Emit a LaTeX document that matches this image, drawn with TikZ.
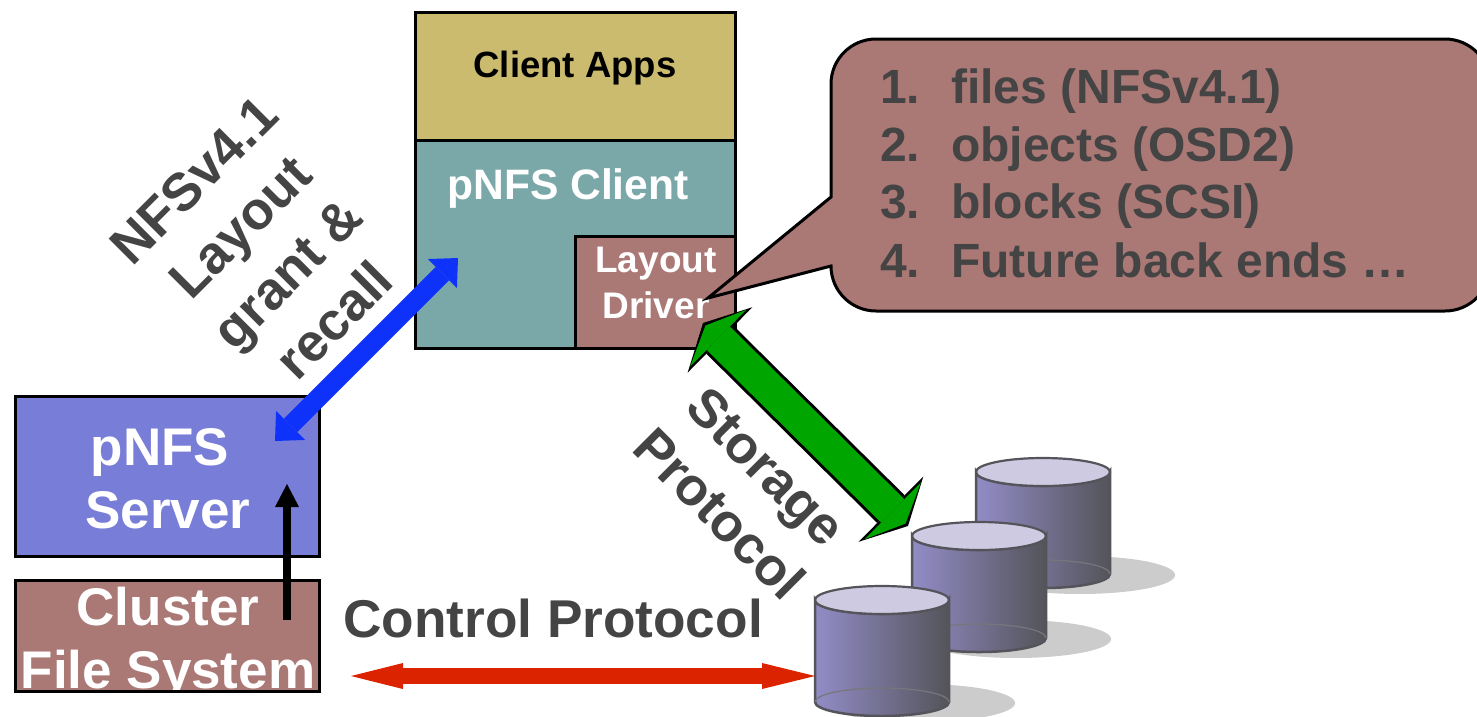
\documentclass[tikz,border=0pt]{standalone}
\usepackage{fontspec}
\setmainfont{Liberation Sans}
\usetikzlibrary{arrows.meta}

\definecolor{appscolor}{RGB}{202,187,111}
\definecolor{clientcolor}{RGB}{122,168,168}
\definecolor{mauvecolor}{RGB}{170,120,117}
\definecolor{servercolor}{RGB}{120,125,215}
\definecolor{textgray}{RGB}{68,68,68}
\definecolor{greenarrow}{RGB}{0,165,0}
\definecolor{bluearrow}{RGB}{15,50,250}
\definecolor{redarrow}{RGB}{220,35,0}
\definecolor{diskleft}{RGB}{146,140,198}
\definecolor{diskright}{RGB}{84,84,90}
\definecolor{disktop}{RGB}{205,202,226}
\definecolor{diskline}{RGB}{84,84,90}
\definecolor{diskshadow}{RGB}{204,204,204}

\begin{document}
\begin{tikzpicture}[x=1pt,y=-1pt,
  box node/.style={rectangle,draw,line width=3pt,inner sep=0pt,outer sep=0pt,anchor=north west},
  white label/.style={inner sep=0pt,anchor=base,text=white,font=\bfseries\fontsize{53}{63}\selectfont},
  small label/.style={inner sep=0pt,align=center,text=white,font=\bfseries\fontsize{37}{46}\selectfont},
  gray label/.style={inner sep=0pt,align=center,text=textgray,font=\bfseries\fontsize{53.2}{66}\selectfont},
  item label/.style={inner sep=0pt,anchor=base west,text=textgray,font=\bfseries\fontsize{48}{58}\selectfont}]

  \useasboundingbox (0,0) rectangle (1477,716);
  \clip (0,0) rectangle (1477,716);

  % client stack
  \node[box node,fill=appscolor,minimum width=320pt,minimum height=128pt] (apps) at (415,12) {};
  \node[box node,fill=clientcolor,minimum width=320pt,minimum height=208pt] (client) at (415,140) {};
  \node[box node,fill=mauvecolor,minimum width=160pt,minimum height=112pt] (driver) at (575,236) {};
  \node[anchor=base,inner sep=0pt,font=\bfseries\fontsize{36.5}{44}\selectfont] (appstext) at (575,77) {Client Apps};
  \node[anchor=base,inner sep=0pt,text=white,font=\bfseries\fontsize{42.6}{50}\selectfont] (clienttext) at (568,199) {pNFS Client};
  \node[small label] (drivertext) at (656,283) {Layout\\Driver};

  % server side
  \node[box node,fill=servercolor,minimum width=304pt,minimum height=160pt] (server) at (15,396) {};
  \node[white label] (servertexta) at (160,465) {pNFS};
  \node[white label] (servertextb) at (168,528) {Server};
  \node[box node,fill=mauvecolor,minimum width=304pt,minimum height=111pt] (cluster) at (15,580) {};
  \begin{scope}
    \clip (15,575) rectangle (319,693);
    \node[white label] (clustertexta) at (168,625) {Cluster};
    \node[white label] (clustertextb) at (168,688) {File System};
  \end{scope}
  \node[box node,minimum width=304pt,minimum height=111pt] (clusterframe) at (15,580) {};

  % speech bubble
  \coordinate (bubbletip) at (708,298);
  \draw[line width=3pt,fill=mauvecolor] (831,197) -- (bubbletip) -- (831,266)
    arc[start angle=180,end angle=90,radius=45]
    -- (1445,311) arc[start angle=90,end angle=0,radius=45]
    -- (1490,84) arc[start angle=0,end angle=-90,radius=45]
    -- (876,39) arc[start angle=270,end angle=180,radius=45] -- cycle;
  \foreach \n/\t/\y in {1/files (NFSv4.1)/103,2/objects (OSD2)/161,3/blocks (SCSI)/218,4/Future back ends …/277}{
    \node[item label] (num\n) at (880,\y) {\n.};
    \node[item label] (item\n) at (951,\y) {\t};
  }

  % disks
  \foreach \cx/\cy/\sx in {1043/472/1080,979/536/1016,882/600/920}{
    \fill[diskshadow] (\sx,\cy+103) ellipse[x radius=95,y radius=19];
    \fill[white] (\sx-100,\cy+122) rectangle (\sx+100,\cy+130);
    \draw[line width=2.5pt,draw=diskline,left color=diskleft,right color=diskright]
      (\cx-67,\cy) -- (\cx-67,\cy+102) arc[start angle=180,end angle=0,x radius=67,y radius=14]
      -- (\cx+67,\cy) arc[start angle=0,end angle=180,x radius=67,y radius=14] -- cycle;
    \draw[line width=1.2pt,draw=diskline!80!white] (\cx-67,\cy+102) arc[start angle=180,end angle=360,x radius=67,y radius=14];
    \draw[line width=2.2pt,draw=diskline,fill=disktop] (\cx,\cy) ellipse[x radius=67,y radius=14];
  }

  % arrows
  \coordinate (blueA) at (458,258);
  \coordinate (blueB) at (275,441);
  \path[bluearrow,line width=19pt,{Triangle[length=22pt,width=41pt,line width=0pt]}-{Triangle[length=22pt,width=41pt,line width=0pt]}]
    (blueA) edge (blueB);

  \coordinate (greenA) at (703,323);
  \coordinate (greenB) at (908,526);
  \path[black,line width=39pt,{Triangle[length=24pt,width=92pt,line width=0pt]}-{Triangle[length=24pt,width=92pt,line width=0pt]}]
    (greenA) edge (greenB);
  \path[greenarrow,line width=33pt,shorten >=3.5pt,shorten <=3.5pt,{Triangle[length=18pt,width=80pt,line width=0pt]}-{Triangle[length=18pt,width=80pt,line width=0pt]}]
    (greenA) edge (greenB);

  \coordinate (redA) at (351,676);
  \coordinate (redB) at (815,676);
  \path[redarrow,line width=16pt,{Triangle[length=52pt,width=26pt,line width=0pt]}-{Triangle[length=53pt,width=26pt,line width=0pt]}]
    (redA) edge (redB);

  \coordinate (blackA) at (287,620);
  \coordinate (blackB) at (287,484);
  \path[black,line width=7.5pt,-{Triangle[length=23pt,width=24pt,line width=0pt]}]
    (blackA) edge (blackB);

  % rotated and free labels
  \node[gray label,rotate=45] (layoutlabel) at (264,250) {NFSv4.1\\Layout\\grant \&\\recall};
  \node[gray label,rotate=-45] (storagelabel) at (743,490) {Storage\\Protocol};
  \node[gray label,anchor=base west] (controllabel) at (343,637) {Control Protocol};

\end{tikzpicture}
\end{document}
